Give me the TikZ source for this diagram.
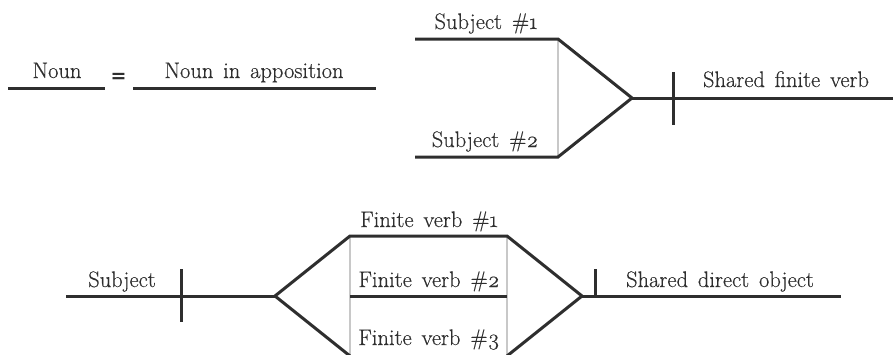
\documentclass[tikz,border=0pt]{standalone}
\usepackage{fontspec}
\setmainfont{Latin Modern Roman}[Numbers=OldStyle, WordSpace=1.45, FakeBold=0.4]
\newfontfamily\eqfont{DejaVu Sans}
\definecolor{ink}{HTML}{2E2E2E}
\definecolor{guideline}{HTML}{C8C8C8}
\begin{document}
\begin{tikzpicture}[x=1pt,y=-1pt,
  rule/.style={line width=3pt, draw=ink, line join=miter},
  guide/.style={line width=2pt, draw=guideline},
  word/.style={anchor=base, inner sep=0pt, font=\fontsize{22.5}{27}\selectfont, text=ink}]
\useasboundingbox (0,0) rectangle (893,354);
\clip (0,0) rectangle (893,354);

% --- apposition -----------------------------------------------------------
\coordinate (nA) at (8,88);
\coordinate (nB) at (105,88);
\coordinate (apA) at (133,88);
\coordinate (apB) at (376,88);
\draw[rule] (nA) -- (nB);
\draw[rule] (apA) -- (apB);
\node[word] (noun) at (57,78) {Noun};
\node[word] (appos) at (254,78) {Noun in apposition};
\node[anchor=center, inner sep=0pt, text=ink, font=\fontsize{19}{22}\eqfont\bfseries] (eq) at (118.5,77.5) {=};

% --- compound subject -------------------------------------------------------
\coordinate (s1a) at (415,39);
\coordinate (s1b) at (558,39);
\coordinate (s2a) at (415,157);
\coordinate (s2b) at (558,157);
\coordinate (sv) at (632,98);
\coordinate (svEnd) at (893,98);
\coordinate (tickT) at (673,72);
\coordinate (tickB) at (673,125);
\draw[guide] (s1b) -- (s2b);
\draw[rule] (s1a) -- (s1b) -- (sv) -- (s2b) -- (s2a);
\draw[rule] (sv) -- (svEnd);
\draw[rule] (tickT) -- (tickB);
\node[word] (subj1) at (486,29) {Subject \#1};
\node[word] (subj2) at (485,147) {Subject \#2};
\node[word] (sharedverb) at (786,87) {Shared finite verb};

% --- compound verb ----------------------------------------------------------
\coordinate (bsA) at (66,296);
\coordinate (lv) at (275,296);
\coordinate (f1a) at (350,236);
\coordinate (f2a) at (350,296);
\coordinate (f3a) at (350,356);
\coordinate (f1b) at (507,236);
\coordinate (f2b) at (507,296);
\coordinate (f3b) at (507,356);
\coordinate (rv) at (582,296);
\coordinate (doEnd) at (841,296);
\coordinate (t1T) at (181,269);
\coordinate (t1B) at (181,322);
\coordinate (t2T) at (595,269);
\coordinate (t2B) at (595,296);
\draw[guide] (f1a) -- (f3a);
\draw[guide] (f1b) -- (f3b);
\draw[rule] (bsA) -- (lv);
\draw[rule] (t1T) -- (t1B);
\draw[rule] (f3a) -- (lv) -- (f1a) -- (f1b) -- (rv) -- (f3b);
\draw[rule] (f2a) -- (f2b);
\draw[rule] (rv) -- (doEnd);
\draw[rule] (t2T) -- (t2B);
\node[word] (subj) at (122,287) {Subject};
\node[word] (fv1) at (429,227) {Finite verb \#1};
\node[word] (fv2) at (429,287) {Finite verb \#2};
\node[word] (fv3) at (429,345) {Finite verb \#3};
\node[word] (dobj) at (720,287) {Shared direct object};
\end{tikzpicture}
\end{document}
